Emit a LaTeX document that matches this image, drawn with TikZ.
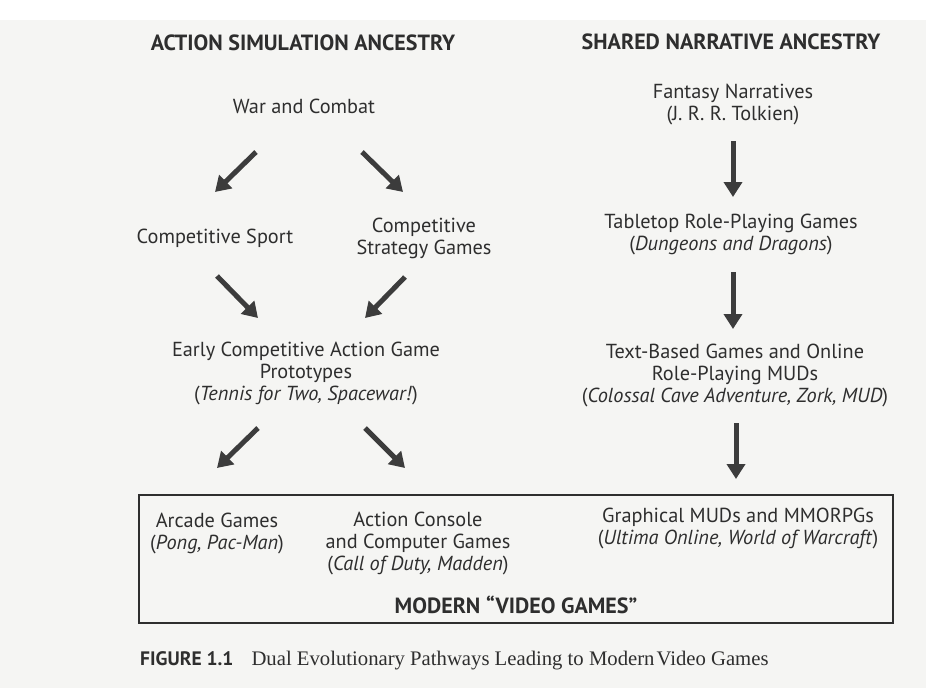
\documentclass[tikz,border=0pt]{standalone}
\usepackage{fontspec}
\setmainfont{PT Sans}
\newfontfamily\capserif{Liberation Serif}
\usetikzlibrary{arrows.meta}
\definecolor{ink}{HTML}{2E2E2E}
\definecolor{arrowc}{HTML}{3C3C3C}
\definecolor{paper}{HTML}{F5F5F3}
\begin{document}
\begin{tikzpicture}[x=1pt,y=-1pt,
  every node/.style={inner sep=0pt, text=ink},
  lbl/.style={align=center, font=\fontsize{20.3}{22}\selectfont},
  hdr/.style={font=\fontsize{22}{24}\selectfont\bfseries},
  arr/.style={draw=arrowc, line width=5pt, -{Triangle[width=18pt,length=15pt]}},
  framebox/.style={draw=ink, line width=1.3pt, minimum width=754pt, minimum height=128pt},
]
\fill[paper] (0,0) rectangle (926,688);
\fill[white] (0,0) rectangle (926,20);
\useasboundingbox (0,0) rectangle (926,688);

% headers
\node[hdr] (hA) at (303,43) {ACTION SIMULATION ANCESTRY};
\node[hdr] (hB) at (731,42) {SHARED NARRATIVE ANCESTRY};

% left column
\node[lbl] (war) at (304,106) {War and Combat};
\node[lbl] (sport) at (215,238) {Competitive Sport};
\node[lbl] (strat) at (424,238) {Competitive\\Strategy Games};
\node[lbl] (early) at (306,374) {Early Competitive Action Game\\Prototypes\\(\textit{Tennis for Two, Spacewar!})};

% right column
\node[lbl] (fant) at (733,105) {Fantasy Narratives\\(J. R. R. Tolkien)};
\node[lbl] (table) at (731,235) {Tabletop Role-Playing Games\\(\textit{Dungeons and Dragons})};
\node[lbl] (text) at (735,376) {Text-Based Games and Online\\Role-Playing MUDs\\(\textit{Colossal Cave Adventure, Zork, MUD})};

% modern box
\node[framebox] (box) at (516,559) {};
\node[lbl] (arcade) at (217,533) {Arcade Games\\(\textit{Pong, Pac-Man})};
\node[lbl] (console) at (418,543) {Action Console\\and Computer Games\\(\textit{Call of Duty, Madden})};
\node[lbl] (mmo) at (738,528) {Graphical MUDs and MMORPGs\\(\textit{Ultima Online, World of Warcraft})};
\node[hdr] (modern) at (516,605) {MODERN ``VIDEO GAMES''};

% arrow end points
\coordinate (a1s) at (256,152); \coordinate (a1e) at (215,192);
\coordinate (a2s) at (362,152); \coordinate (a2e) at (403,192);
\coordinate (a3s) at (217,276); \coordinate (a3e) at (258,318);
\coordinate (a4s) at (405,277); \coordinate (a4e) at (365,318);
\coordinate (a5s) at (258,428); \coordinate (a5e) at (217,468);
\coordinate (a6s) at (365,428); \coordinate (a6e) at (405,468);
\coordinate (b1s) at (733,141); \coordinate (b1e) at (733,197);
\coordinate (b2s) at (733,272); \coordinate (b2e) at (733,329);
\coordinate (b3s) at (736,423); \coordinate (b3e) at (736,479);

\draw[arr] (a1s) -- (a1e);
\draw[arr] (a2s) -- (a2e);
\draw[arr] (a3s) -- (a3e);
\draw[arr] (a4s) -- (a4e);
\draw[arr] (a5s) -- (a5e);
\draw[arr] (a6s) -- (a6e);
\draw[arr] (b1s) -- (b1e);
\draw[arr] (b2s) -- (b2e);
\draw[arr] (b3s) -- (b3e);

% caption
\node[anchor=base west] (cap) at (140,665) {\fontsize{19.5}{22}\selectfont\bfseries FIGURE 1.1\hspace{18pt}\capserif\mdseries\fontsize{20.7}{22}\selectfont Dual Evolutionary Pathways Leading to Modern\hspace{2pt}Video Games};
\end{tikzpicture}
\end{document}
